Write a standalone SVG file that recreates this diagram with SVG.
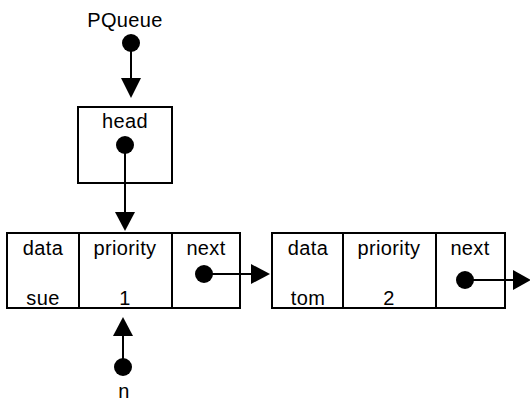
<svg xmlns="http://www.w3.org/2000/svg" width="530" height="401" viewBox="0 0 530 401">
  <style>
    .box { fill: #fff; stroke: #000; stroke-width: 2; }
    .div { stroke: #000; stroke-width: 2; }
    .lbl { font-family: "Liberation Sans", Arial, sans-serif; font-size: 20px; letter-spacing: 0.35px; fill: #000; text-anchor: middle; }
    .dot { fill: #000; }
    .link { stroke: #000; stroke-width: 2; fill: none; }
    .head { fill: #000; }
  </style>
  <rect width="530" height="401" fill="#fff"/>

  <!-- PQueue reference -->
  <g id="pqueue">
    <text class="lbl" x="125" y="27">PQueue</text>
    <circle class="dot" cx="131" cy="43" r="9"/>
  </g>

  <!-- head field box -->
  <g id="headbox">
    <rect class="box" x="78" y="107" width="94" height="76"/>
    <text class="lbl" x="125" y="128">head</text>
    <circle class="dot" cx="125" cy="145" r="9"/>
  </g>

  <!-- node: sue / 1 -->
  <g id="node-sue">
    <rect class="box" x="7" y="233" width="233" height="75"/>
    <line class="div" x1="79" y1="233" x2="79" y2="308"/>
    <line class="div" x1="172" y1="233" x2="172" y2="308"/>
    <text class="lbl" x="43" y="255">data</text>
    <text class="lbl" x="125" y="255">priority</text>
    <text class="lbl" x="206" y="255">next</text>
    <text class="lbl" x="43" y="305">sue</text>
    <text class="lbl" x="125" y="305">1</text>
    <circle class="dot" cx="204" cy="274" r="9"/>
  </g>

  <!-- node: tom / 2 -->
  <g id="node-tom">
    <rect class="box" x="272" y="233" width="233" height="75"/>
    <line class="div" x1="343" y1="233" x2="343" y2="308"/>
    <line class="div" x1="436" y1="233" x2="436" y2="308"/>
    <text class="lbl" x="308" y="255">data</text>
    <text class="lbl" x="389" y="255">priority</text>
    <text class="lbl" x="470" y="255">next</text>
    <text class="lbl" x="308" y="305">tom</text>
    <text class="lbl" x="389" y="305">2</text>
    <circle class="dot" cx="465" cy="280" r="9"/>
  </g>

  <!-- n reference -->
  <g id="n">
    <circle class="dot" cx="123" cy="367" r="9"/>
    <text class="lbl" x="124" y="398">n</text>
  </g>

  <!-- pointers -->
  <g id="connectors">
    <line class="link" x1="131" y1="43" x2="131" y2="80"/>
    <polygon class="head" points="121,78 141,78 131,98"/>

    <line class="link" x1="125" y1="145" x2="125" y2="214"/>
    <polygon class="head" points="115,212 135,212 125,231"/>

    <line class="link" x1="123" y1="367" x2="123" y2="334"/>
    <polygon class="head" points="113,336 133,336 123,317"/>

    <line class="link" x1="204" y1="274" x2="253" y2="274"/>
    <polygon class="head" points="251,264 251,284 270,274"/>

    <line class="link" x1="465" y1="280" x2="515" y2="280"/>
    <polygon class="head" points="513,270 513,290 531,280"/>
  </g>
</svg>
